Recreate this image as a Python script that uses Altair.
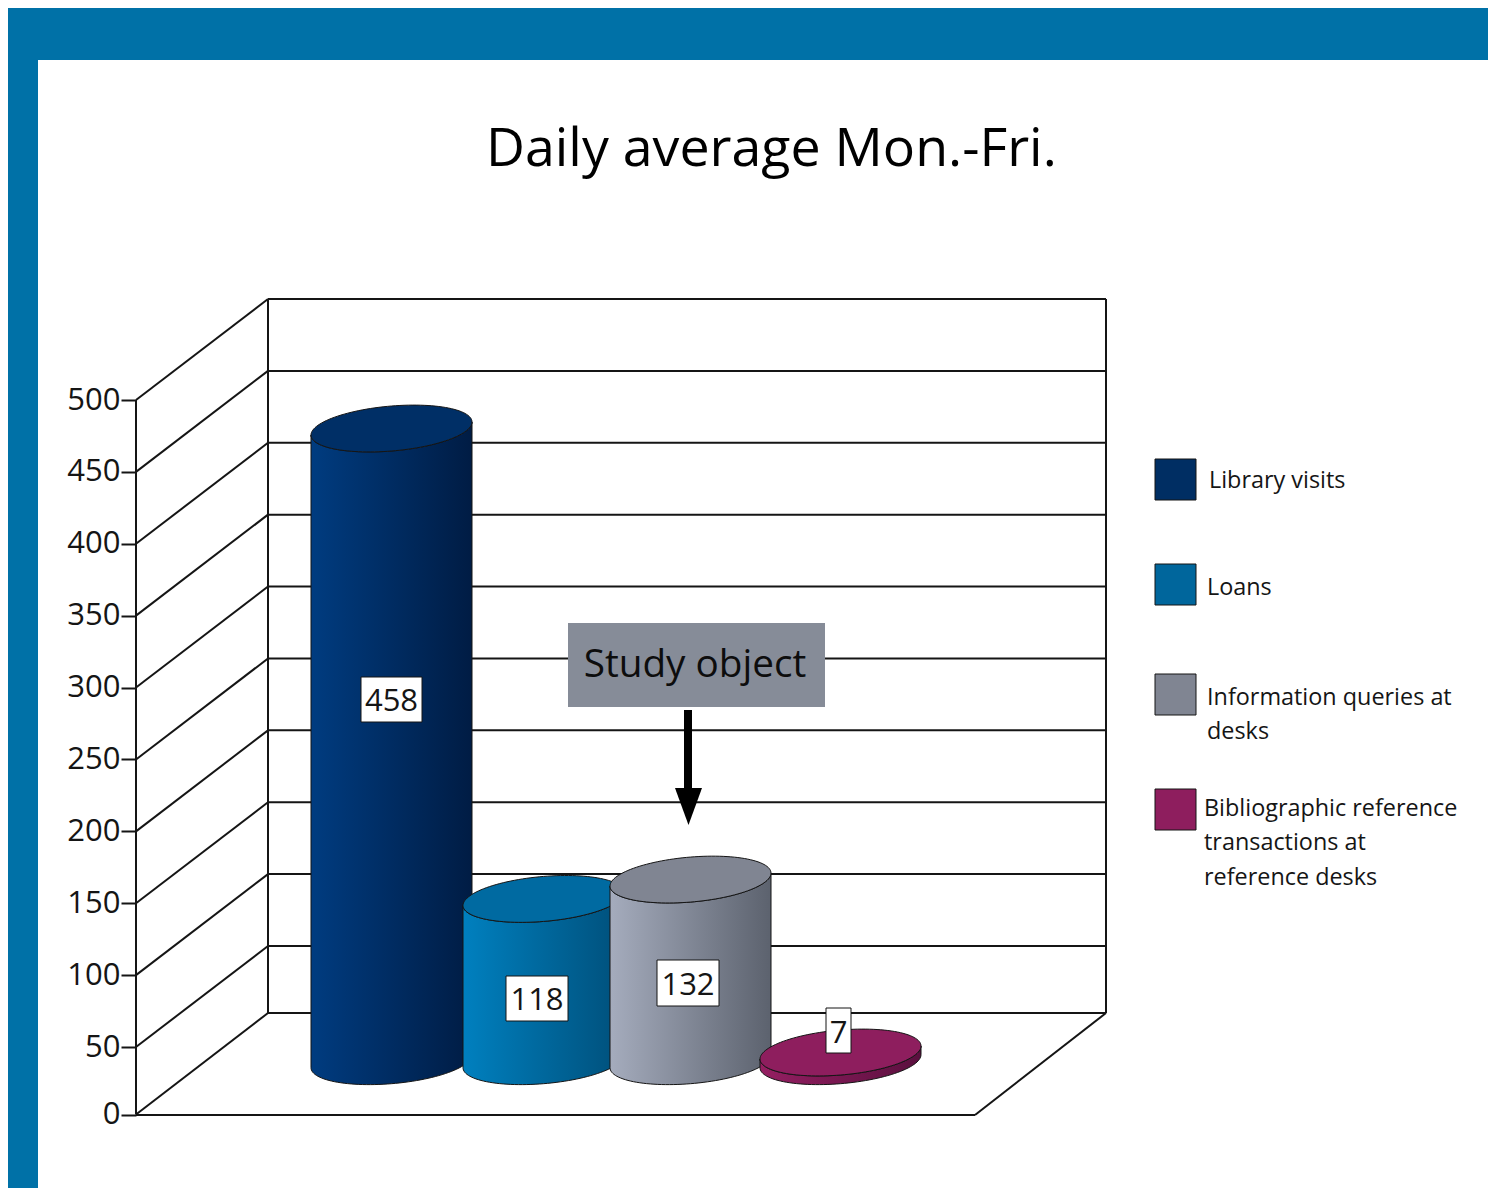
import altair as alt
import numpy as np
import pandas as pd

# ---- chart values ----
categories = ["Library visits", "Loans", "Information queries at\ndesks",
              "Bibliographic reference\ntransactions at\nreference desks"]
values = [458, 118, 132, 7]
value_labels = ["458", "118", "132", "7"]
tick_values = [0, 50, 100, 150, 200, 250, 300, 350, 400, 450, 500]
title_text = "Daily average Mon.-Fri."
note_text = "Study object"

# ---- colours: left of body, right of body, top face ----
body_left = ["#003c80", "#0080bf", "#a5acbd", "#951f62"]
body_right = ["#001c44", "#004f7a", "#5c626e", "#5a0f3e"]
top_face = ["#002f66", "#006aa1", "#808592", "#8e1e5e"]
legend_fill = ["#002e63", "#00669c", "#808592", "#8e1e5e"]
banner = "#0071a7"
ink = "#151515"
FONT = "Open Sans"

# ---- layout, in page pixels ----
cyl_left = [311, 463, 610, 760]
cyl_w = 161
floor_y = 1062.2
px_per_unit = 1.3836
base_lift = 1.0
tilt = 6.5
squash = 22.5
label_box = [(361, 422, 677, 722), (506, 568, 976, 1021), (657, 719, 960, 1006), (826, 851, 1008, 1053)]
label_xy = [(391.5, 711), (537, 1010), (688, 995), (838.5, 1043)]
legend_y = [459, 564, 674, 789]
legend_text = [(1209, 488), (1207, 595), (1207, 705), (1204, 816)]

PX = alt.Scale(domain=[8, 1488], range=[0, 1480], nice=False, zero=False)
PY = alt.Scale(domain=[8, 1188], range=[0, 1180], nice=False, zero=False)
AXIS_Y = alt.Scale(domain=[-54.4, 0, 50, 500, 773], range=[1180, 1106.5, 1039, 392, 0], nice=False, zero=False)
CYL_Y = alt.Scale(domain=[(floor_y - 1188) / px_per_unit, (floor_y - 8) / px_per_unit],
                  range=[1180, 0], nice=False, zero=False)


def X(f="x"):
    return alt.X(f"{f}:Q", scale=PX, axis=None, title=None)


def Y(f="y"):
    return alt.Y(f"{f}:Q", scale=PY, axis=None, title=None)


def segs(rows):
    return pd.DataFrame(rows, columns=["x", "x2", "y", "y2"])


def rule_layer(rows, color=ink, width=2):
    return alt.Chart(segs(rows)).mark_rule(color=color, strokeWidth=width).encode(
        x=X(), x2="x2:Q", y=Y(), y2="y2:Q")


def rect_layer(rows, fill, stroke=None, width=0):
    kw = dict(fill=fill)
    if stroke:
        kw.update(stroke=stroke, strokeWidth=width)
    return alt.Chart(segs(rows)).mark_rect(**kw).encode(x=X(), x2="x2:Q", y=Y(), y2="y2:Q")


def text_layer(rows, size, color=ink, align="left", **kw):
    df = pd.DataFrame(rows, columns=["x", "y", "t"])
    return alt.Chart(df).mark_text(font=FONT, fontSize=size, color=color, align=align,
                                   baseline="alphabetic", **kw).encode(x=X(), y=Y(), text="t:N")


def cyl_y(f):
    return alt.Y(f"{f}:Q", scale=CYL_Y, axis=None, title=None)


def cylinder(i):
    a = cyl_w / 2
    cx = cyl_left[i] + a
    t = np.linspace(np.pi, 0, 61)
    dx = a * np.cos(t)
    # pixel offsets of the lower and upper half of a tilted ellipse
    lower = squash * np.sin(t) - tilt * dx / a
    upper = -squash * np.sin(t) - tilt * dx / a
    v = values[i]
    body = pd.DataFrame({"x": cx + dx, "top": v - lower / px_per_unit,
                         "base": (base_lift - lower) / px_per_unit})
    cap = pd.DataFrame({"x": cx + dx, "top": v - upper / px_per_unit, "base": v - lower / px_per_unit})
    grad = alt.Gradient(gradient="linear", x1=0, x2=1, y1=0, y2=0,
                        stops=[alt.GradientStop(color=body_left[i], offset=0),
                               alt.GradientStop(color=body_right[i], offset=1)])
    b = alt.Chart(body).mark_area(fill=grad, stroke=ink, strokeWidth=1, orient="vertical").encode(
        x=X(), y=cyl_y("top"), y2="base:Q")
    c = alt.Chart(cap).mark_area(fill=top_face[i], stroke=ink, strokeWidth=1, orient="vertical").encode(
        x=X(), y=cyl_y("top"), y2="base:Q")
    return [b, c]


# ---- frame ----
front = [np.interp(v, [0, 50, 500], [1114.5, 1047, 400]) for v in tick_values]
back = [y - 101 for y in front]
back[0] = 1013
frame_rows = []
for f, b in zip(front, back):
    frame_rows.append((136, 268, f, b))
    frame_rows.append((268, 1106, b, b))
frame_rows += [(268, 268, back[-1], back[0]), (1106, 1106, back[-1], back[0]),
               (136, 975, 1115, 1115), (975, 1106, 1115, 1013)]
frame = rule_layer(frame_rows)

axis_line = alt.Chart(pd.DataFrame({"x": [136], "lo": [tick_values[0]], "hi": [tick_values[-1]]})).mark_rule(
    color=ink, strokeWidth=2).encode(
    x=X(),
    y=alt.Y("lo:Q", scale=AXIS_Y, title=None,
            axis=alt.Axis(values=tick_values, offset=-128, domain=False, grid=False, tickSize=15,
                          tickWidth=2, tickColor=ink, labelFont=FONT, labelFontSize=31,
                          labelColor=ink, labelPadding=1, labelOverlap=False)),
    y2="hi:Q")

# ---- arrow ----
shaft = rect_layer([(684, 692, 710, 792)], "#000000")
head = alt.Chart(pd.DataFrame({"x": [688.5], "y": [806.5]})).mark_point(
    shape="M -0.73 -1 L 0.73 -1 L 0 1 Z", size=37 ** 2, fill="#000000", opacity=1, strokeWidth=0, filled=True
).encode(x=X(), y=Y())

layers = [
    rect_layer([(8, 1488, 8, 60), (8, 38, 8, 1188)], banner),
    frame,
    axis_line,
]
for i in range(len(values)):
    layers += cylinder(i)
layers += [
    rect_layer(label_box, "#ffffff", ink, 1),
    text_layer([(x, y, t) for (x, y), t in zip(label_xy, value_labels)], 31, align="center"),
    rect_layer([(568, 825, 623, 707)], "#868c98"),
    text_layer([(695, 677, note_text)], 38.7, color="#0d0d0d", align="center"),
    shaft,
    head,
]
for y0, col in zip(legend_y, legend_fill):
    layers.append(rect_layer([(1155, 1196, y0, y0 + 41)], col, ink, 1))
layers.append(text_layer([(x, y, t) for (x, y), t in zip(legend_text, categories)], 23.4,
                         lineBreak="\n", lineHeight=34.3))

chart = alt.layer(*layers).resolve_scale(y="independent").properties(
    width=1480, height=1180, padding=0,
    autosize=alt.AutoSizeParams(type="none"),
    title=alt.TitleParams(title_text, font=FONT, fontSize=53.7, fontWeight="normal", color="#000000",
                          anchor="start", frame="group", dx=478, dy=170, offset=0),
).configure_view(stroke=None)

chart.save("out.html", embed_options={"renderer": "svg", "actions": False})
